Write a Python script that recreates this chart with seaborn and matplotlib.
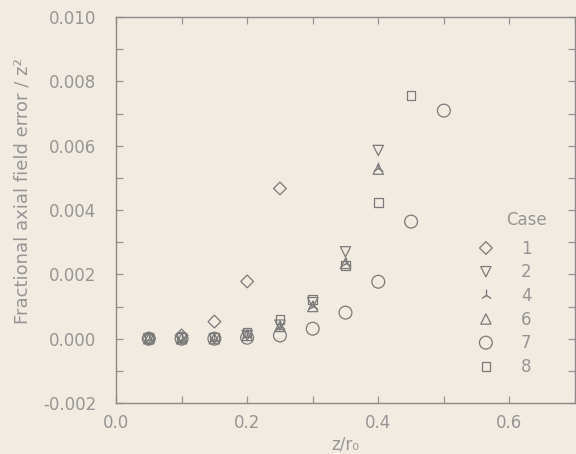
import matplotlib
matplotlib.use("Agg")
import matplotlib.pyplot as plt
import matplotlib.ticker as mticker
import numpy as np
import pandas as pd
import seaborn as sns

# Axial positions (z / r0)
z_vals = [0.05, 0.10, 0.15, 0.20, 0.25, 0.30, 0.35, 0.40, 0.45, 0.50]

# Fractional axial field error / z^2 for each case
case1 = [0.0, 0.0001, 0.00053, 0.00178, 0.00467]
case2 = [0.0, 0.0, 0.0, 0.0001, 0.00042, 0.00112, 0.00270, 0.00585]
case4 = [0.0, 0.0, 0.0, 0.0001, 0.00040, 0.00102, 0.00236, 0.00530]
case6 = [0.0, 0.0, 0.0, 0.0001, 0.00038, 0.00100, 0.00234, 0.00527]
case7 = [0.0, 0.0, 0.0, 0.00003, 0.00010, 0.00031, 0.00081, 0.00177, 0.00364, 0.00709]
case8 = [0.0, 0.00003, 0.00005, 0.00020, 0.00059, 0.00121, 0.00227, 0.00423, 0.00756]

case_names = ["1", "2", "4", "6", "7", "8"]
case_values = [case1, case2, case4, case6, case7, case8]

rows = []
for name, vals in zip(case_names, case_values):
    for z, v in zip(z_vals, vals):
        rows.append({"z": z, "err": v, "case": name})
df = pd.DataFrame(rows)

BG = "#f2ebe1"
INK = "#7a7a7a"
TXT = "#959595"

sns.set_theme(style="ticks")
plt.rcParams["font.family"] = ["DejaVu Sans"]
plt.rcParams["axes.unicode_minus"] = False

fig = plt.figure(figsize=(5.76, 4.54), dpi=100, facecolor=BG)
ax = fig.add_axes([116 / 576, 1 - 403 / 454, (575 - 116) / 576, (403 - 17) / 454])
ax.set_facecolor(BG)

styles = {
    "1": dict(marker="D", s=42),
    "2": dict(marker="v", s=55),
    "4": dict(marker="2", s=70),
    "6": dict(marker="^", s=55),
    "7": dict(marker="o", s=85),
    "8": dict(marker="s", s=38),
}

for name in case_names:
    sub = df[df["case"] == name]
    st = styles[name]
    if st["marker"] == "2":
        sns.scatterplot(data=sub, x="z", y="err", marker=st["marker"], s=st["s"],
                        color=INK, linewidth=1.0, ax=ax, label=name)
    else:
        sns.scatterplot(data=sub, x="z", y="err", marker=st["marker"], s=st["s"],
                        color=INK, facecolor="none", edgecolor=INK, linewidth=0.9,
                        ax=ax, label=name)

ax.set_xlim(0.0, 0.7)
ax.set_ylim(-0.002, 0.010)
ax.xaxis.set_major_locator(mticker.MultipleLocator(0.2))
ax.xaxis.set_minor_locator(mticker.MultipleLocator(0.1))
ax.yaxis.set_major_locator(mticker.MultipleLocator(0.002))
ax.yaxis.set_minor_locator(mticker.MultipleLocator(0.001))
ax.xaxis.set_major_formatter(mticker.FormatStrFormatter("%.1f"))
ax.yaxis.set_major_formatter(mticker.FormatStrFormatter("%.3f"))

for which in ("major", "minor"):
    ax.tick_params(axis="both", which=which, direction="in", length=5, width=0.9,
                   color=TXT, top=True, right=True, labelcolor=TXT, labelsize=12)
ax.tick_params(axis="x", which="major", pad=8)
ax.tick_params(axis="y", which="major", pad=14)

for sp in ax.spines.values():
    sp.set_color("#8a8a8a")
    sp.set_linewidth(1.0)

ax.set_xlabel("z/r\u2080", color=TXT, fontsize=12)
ax.set_ylabel("Fractional axial field error / z\u00b2", color=TXT, fontsize=13)
ax.yaxis.set_label_coords(-0.185, 0.55)
ax.xaxis.set_label_coords(0.499, -0.085)

leg = ax.legend(frameon=False, loc="upper left",
                bbox_to_anchor=(0.755, 0.44), labelcolor=TXT, fontsize=12,
                handletextpad=1.1, labelspacing=0.34, borderaxespad=0.0,
                scatteryoffsets=[0.5])
ax.text(0.895, 0.473, "Case", transform=ax.transAxes, ha="center", va="center",
        color=TXT, fontsize=12)

fig.savefig("out.png", dpi=100, facecolor=BG)
